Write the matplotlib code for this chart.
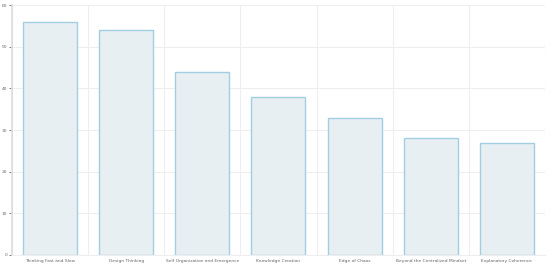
import matplotlib.pyplot as plt
import numpy as np

books = ['Thinking Fast and Slow', 'Design Thinking', 'Self Organization and Emergence',
         'Knowledge Creation', 'Edge of Chaos', 'Beyond the Centralized Mindset',
         'Explanatory Coherence']
counts = [56, 54, 44, 38, 33, 28, 27]

fig = plt.figure(figsize=(5.5, 2.67), dpi=100)
ax = fig.add_axes([0.0218, 0.045, 0.969, 0.936])

x = np.arange(len(books))
ax.bar(x, counts, width=0.71, color='#e8eff3', edgecolor='#a3cde1', linewidth=1.0, zorder=2)

ax.set_xlim(-0.5, len(books) - 0.5)
ax.set_ylim(0, 60)
ax.set_yticks(range(0, 61, 10))
ax.set_xticks(x)
ax.set_xticklabels(books)
ax.set_xticks(np.arange(-0.5, len(books), 1), minor=True)

ax.grid(axis='y', color='#eeeeee', linewidth=0.8, zorder=0)
ax.grid(axis='x', which='minor', color='#eeeeee', linewidth=0.8, zorder=0)
ax.grid(axis='x', which='major', visible=False)

for s in ['top', 'right']:
    ax.spines[s].set_visible(False)
ax.spines['left'].set_color('#dddddd')
ax.spines['left'].set_linewidth(1.2)
ax.spines['bottom'].set_color('#eeeeee')

ax.tick_params(axis='both', which='major', labelsize=3.2, colors='#666666', length=2, width=0.6, pad=1.5)
ax.tick_params(axis='x', which='major', length=0, pad=3)
ax.tick_params(axis='x', which='minor', length=0)
for t in ax.get_yticklines():
    t.set_color('#dddddd')

fig.savefig('out.png', dpi=100)
